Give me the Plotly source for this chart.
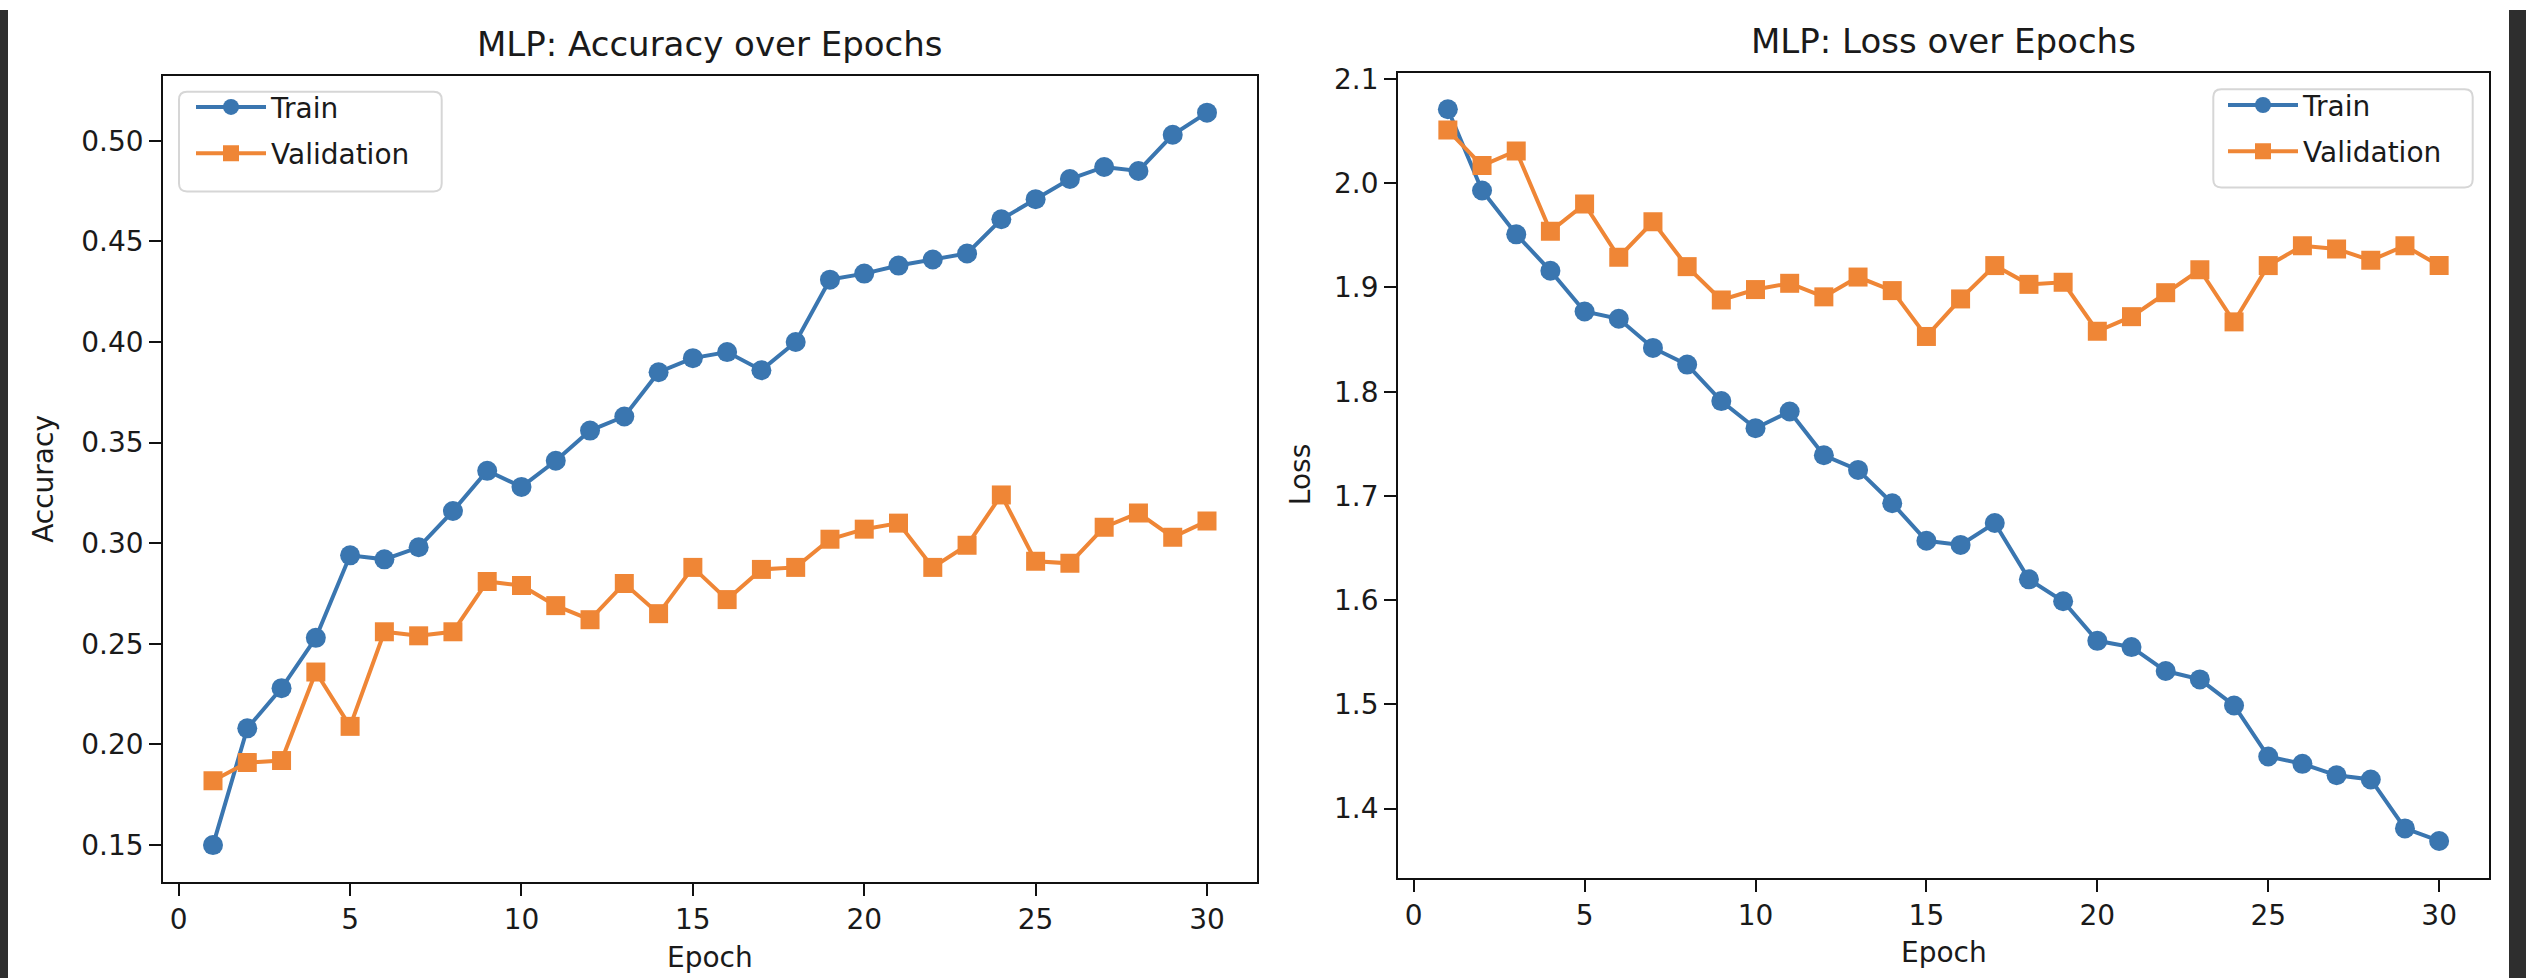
import plotly.graph_objects as go

epochs = list(range(1, 31))

train_acc = [0.150, 0.208, 0.228, 0.253, 0.294, 0.292, 0.298, 0.316, 0.336, 0.328,
             0.341, 0.356, 0.363, 0.385, 0.392, 0.395, 0.386, 0.400, 0.431, 0.434,
             0.438, 0.441, 0.444, 0.461, 0.471, 0.481, 0.487, 0.485, 0.503, 0.514]
val_acc = [0.182, 0.191, 0.192, 0.236, 0.209, 0.256, 0.254, 0.256, 0.281, 0.279,
           0.269, 0.262, 0.280, 0.265, 0.288, 0.272, 0.287, 0.288, 0.302, 0.307,
           0.310, 0.288, 0.299, 0.324, 0.291, 0.290, 0.308, 0.315, 0.303, 0.311]
train_loss = [2.071, 1.993, 1.951, 1.916, 1.877, 1.870, 1.842, 1.826, 1.791, 1.765,
              1.781, 1.739, 1.725, 1.693, 1.657, 1.653, 1.674, 1.620, 1.599, 1.561,
              1.555, 1.532, 1.524, 1.499, 1.450, 1.443, 1.432, 1.428, 1.381, 1.369]
val_loss = [2.051, 2.017, 2.031, 1.954, 1.980, 1.929, 1.963, 1.920, 1.888, 1.898,
            1.904, 1.891, 1.910, 1.897, 1.853, 1.889, 1.921, 1.903, 1.905, 1.858,
            1.872, 1.895, 1.917, 1.867, 1.921, 1.940, 1.937, 1.926, 1.940, 1.921]

acc_ticks = [0.15, 0.20, 0.25, 0.30, 0.35, 0.40, 0.45, 0.50]
loss_ticks = [1.4, 1.5, 1.6, 1.7, 1.8, 1.9, 2.0, 2.1]
epoch_ticks = [0, 5, 10, 15, 20, 25, 30]

W, H = 2526, 978
BLUE = "#3a76b0"
ORANGE = "#ef8636"
FONT = "DejaVu Sans"
TXT = "#1a1a1a"


def px_x(p):
    return p / W


def px_y(p):
    return 1 - p / H


fig = go.Figure()

series = [
    ("x", "y", train_acc, "Train", BLUE, "circle", "legend", "g1"),
    ("x", "y", val_acc, "Validation", ORANGE, "square", "legend", "g2"),
    ("x2", "y2", train_loss, "Train", BLUE, "circle", "legend2", "g3"),
    ("x2", "y2", val_loss, "Validation", ORANGE, "square", "legend2", "g4"),
]
for xa, ya, vals, name, col, sym, leg, grp in series:
    fig.add_trace(go.Scatter(
        x=epochs, y=vals, name=name, mode="lines+markers",
        xaxis=xa, yaxis=ya, legend=leg, legendgroup=grp,
        line=dict(color=col, width=4),
        marker=dict(color=col, symbol=sym, size=20 if sym == "circle" else 19),
    ))

axis_common = dict(
    showgrid=False, zeroline=False, showline=True, mirror=True,
    linecolor="#111", linewidth=2.3, ticks="outside", ticklen=12,
    tickwidth=2.3, tickcolor="#111",
    tickfont=dict(family=FONT, size=28, color=TXT),
)

# axes boxes (pixels)
L = dict(x0=163.3, x1=1256.7, y0=66.7, y1=880.7)
R = dict(x0=1398.3, x1=2488.7, y0=63.3, y1=876.5)

legend_common = dict(
    xanchor="left", yanchor="top", bgcolor="rgba(0,0,0,0)", borderwidth=0,
    font=dict(family=FONT, size=28, color=TXT),
    traceorder="grouped", tracegroupgap=7, itemwidth=70,
)

fig.update_layout(
    width=W, height=H,
    margin=dict(l=0, r=0, t=0, b=0),
    paper_bgcolor="white", plot_bgcolor="white",
    font=dict(family=FONT, size=28, color=TXT),
    xaxis=dict(domain=[px_x(L["x0"]), px_x(L["x1"])], range=[-0.45, 31.45],
               tickvals=epoch_ticks, anchor="y", **axis_common),
    yaxis=dict(domain=[px_y(L["y1"]), px_y(L["y0"])], range=[0.1318, 0.5322],
               tickvals=acc_ticks, tickformat=".2f", anchor="x", **axis_common),
    xaxis2=dict(domain=[px_x(R["x0"]), px_x(R["x1"])], range=[-0.45, 31.45],
                tickvals=epoch_ticks, anchor="y2", **axis_common),
    yaxis2=dict(domain=[px_y(R["y1"]), px_y(R["y0"])], range=[1.3339, 2.1061],
                tickvals=loss_ticks, tickformat=".1f", anchor="x2", **axis_common),
    legend=dict(x=px_x(191), y=px_y(73), **legend_common),
    legend2=dict(x=px_x(2223), y=px_y(71), **legend_common),
    showlegend=True,
)


def rounded_box(x0, y0, x1, y1, r):
    # pixel coords (top-left origin) -> paper path
    def P(x, y):
        return f"{px_x(x):.6f},{px_y(y):.6f}"
    return (f"M {P(x0 + r, y0)} L {P(x1 - r, y0)} Q {P(x1, y0)} {P(x1, y0 + r)} "
            f"L {P(x1, y1 - r)} Q {P(x1, y1)} {P(x1 - r, y1)} "
            f"L {P(x0 + r, y1)} Q {P(x0, y1)} {P(x0, y1 - r)} "
            f"L {P(x0, y0 + r)} Q {P(x0, y0)} {P(x0 + r, y0)} Z")


shapes = [
    dict(type="rect", xref="paper", yref="paper", x0=0, x1=px_x(8), y0=0, y1=1,
         fillcolor="#2e2e2e", line=dict(width=0), layer="above"),
    dict(type="rect", xref="paper", yref="paper", x0=px_x(2509), x1=1, y0=0, y1=1,
         fillcolor="#2e2e2e", line=dict(width=0), layer="above"),
    dict(type="path", xref="paper", yref="paper",
         path=rounded_box(179, 82.7, 441.7, 183.3, 8),
         fillcolor="rgba(255,255,255,0.8)", line=dict(color="#d6d6d6", width=2),
         layer="below"),
    dict(type="path", xref="paper", yref="paper",
         path=rounded_box(2213.3, 80, 2472.7, 179.3, 8),
         fillcolor="rgba(255,255,255,0.8)", line=dict(color="#d6d6d6", width=2),
         layer="below"),
]

annotations = [
    dict(text="MLP: Accuracy over Epochs", x=px_x(710), y=px_y(34),
         font=dict(family=FONT, size=34, color=TXT)),
    dict(text="MLP: Loss over Epochs", x=px_x(1943.5), y=px_y(31.5),
         font=dict(family=FONT, size=34, color=TXT)),
    dict(text="Epoch", x=px_x(710), y=px_y(957),
         font=dict(family=FONT, size=28, color=TXT)),
    dict(text="Epoch", x=px_x(1943.5), y=px_y(952),
         font=dict(family=FONT, size=28, color=TXT)),
    dict(text="Accuracy", x=px_x(44), y=px_y(473.7), textangle=-90,
         font=dict(family=FONT, size=28, color=TXT)),
    dict(text="Loss", x=px_x(1300), y=px_y(470), textangle=-90,
         font=dict(family=FONT, size=28, color=TXT)),
]
for a in annotations:
    a.update(xref="paper", yref="paper", showarrow=False,
             xanchor="center", yanchor="middle")

fig.update_layout(shapes=shapes, annotations=annotations)

fig.write_html("out.html",
               config={"displayModeBar": False},
               post_script="document.body.style.margin='0';document.body.style.overflow='hidden';")
